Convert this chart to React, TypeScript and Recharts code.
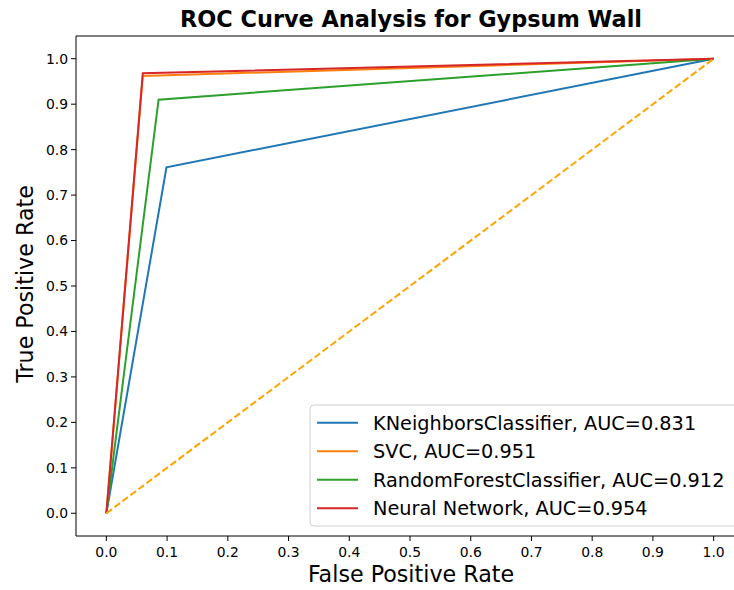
import React from 'react';
import { LineChart, Line, XAxis, YAxis, ReferenceLine, Customized } from 'recharts';

const FONT = '"DejaVu Sans", sans-serif';

const axisTicks = [0, 0.1, 0.2, 0.3, 0.4, 0.5, 0.6, 0.7, 0.8, 0.9, 1.0];

const knnFpr = [0, 0.099, 1];
const knnTpr = [0, 0.761, 1];
const svcFpr = [0, 0.06, 1];
const svcTpr = [0, 0.962, 1];
const rfFpr = [0, 0.086, 1];
const rfTpr = [0, 0.91, 1];
const nnFpr = [0, 0.06, 1];
const nnTpr = [0, 0.968, 1];
const diagFpr = [0, 1];
const diagTpr = [0, 1];

const seriesNames = [
  'KNeighborsClassifier, AUC=0.831',
  'SVC, AUC=0.951',
  'RandomForestClassifier, AUC=0.912',
  'Neural Network, AUC=0.954',
];
const seriesColors = ['#1f77b4', '#ff7f0e', '#2ca02c', '#d62728'];

const toPoints = (xs: number[], ys: number[]) => xs.map((x, i) => ({ x, y: ys[i] }));

const series = [
  { name: seriesNames[0], color: seriesColors[0], data: toPoints(knnFpr, knnTpr) },
  { name: seriesNames[1], color: seriesColors[1], data: toPoints(svcFpr, svcTpr) },
  { name: seriesNames[2], color: seriesColors[2], data: toPoints(rfFpr, rfTpr) },
  { name: seriesNames[3], color: seriesColors[3], data: toPoints(nnFpr, nnTpr) },
];
const diagonal = toPoints(diagFpr, diagTpr);

const LegendBox = () => (
  <g>
    <rect x={310} y={405} width={430} height={121} rx={4} ry={4} fill="#fff" fillOpacity={0.8} stroke="#d0d0d0" strokeWidth={1} />
    {series.map((s, i) => {
      const cy = 422.7 + i * 28.5;
      return (
        <g key={s.name}>
          <line x1={317} x2={358} y1={cy} y2={cy} stroke={s.color} strokeWidth={2} />
          <text x={373} y={cy + 6.8} fontFamily={FONT} fontSize={19.3} fill="#000">
            {s.name}
          </text>
        </g>
      );
    })}
  </g>
);

const Title = () => (
  <text x={411} y={27} textAnchor="middle" fontFamily={FONT} fontWeight="bold" fontSize={22.4} fill="#000">
    ROC Curve Analysis for Gypsum Wall
  </text>
);

const YLabel = () => (
  <text
    x={33}
    y={284}
    transform="rotate(-90 33 284)"
    textAnchor="middle"
    fontFamily={FONT}
    fontSize={22.2}
    fill="#000"
  >
    True Positive Rate
  </text>
);

const XLabel = () => (
  <text x={411} y={582} textAnchor="middle" fontFamily={FONT} fontSize={22.2} fill="#000">
    False Positive Rate
  </text>
);

export default function App() {
  return (
    <div
      style={{
        position: 'absolute',
        left: 0,
        top: 0,
        width: 734,
        height: 590,
        overflow: 'hidden',
        background: '#fff',
      }}
    >
      <LineChart width={770} height={590} margin={{ top: 36, right: 26, bottom: 0, left: 0 }}>
        <XAxis
          type="number"
          dataKey="x"
          domain={[-0.05, 1.05]}
          ticks={axisTicks}
          allowDataOverflow
          tickFormatter={(v: number) => v.toFixed(1)}
          tick={{ fontSize: 13.9, fill: '#000', fontFamily: FONT }}
          tickLine={{ stroke: '#000' }}
          axisLine={{ stroke: '#000' }}
          tickSize={5}
          tickMargin={6}
          height={54}
        />
        <YAxis
          type="number"
          dataKey="y"
          domain={[-0.05, 1.05]}
          ticks={axisTicks}
          allowDataOverflow
          tickFormatter={(v: number) => v.toFixed(1)}
          tick={{ fontSize: 13.9, fill: '#000', fontFamily: FONT }}
          tickLine={{ stroke: '#000' }}
          axisLine={{ stroke: '#000' }}
          tickSize={5}
          tickMargin={3}
          width={76}
        />
        <ReferenceLine y={1.05} stroke="#000" ifOverflow="visible" />
        {series.map((s) => (
          <Line
            key={s.name}
            data={s.data}
            dataKey="y"
            name={s.name}
            type="linear"
            stroke={s.color}
            strokeWidth={2}
            dot={false}
            activeDot={false}
            isAnimationActive={false}
          />
        ))}
        <Line
          data={diagonal}
          dataKey="y"
          name="diagonal"
          type="linear"
          stroke="#ffa500"
          strokeWidth={2}
          strokeDasharray="7 3"
          dot={false}
          activeDot={false}
          legendType="none"
          isAnimationActive={false}
        />
        <Customized component={LegendBox} />
        <Customized component={Title} />
        <Customized component={YLabel} />
        <Customized component={XLabel} />
      </LineChart>
    </div>
  );
}
